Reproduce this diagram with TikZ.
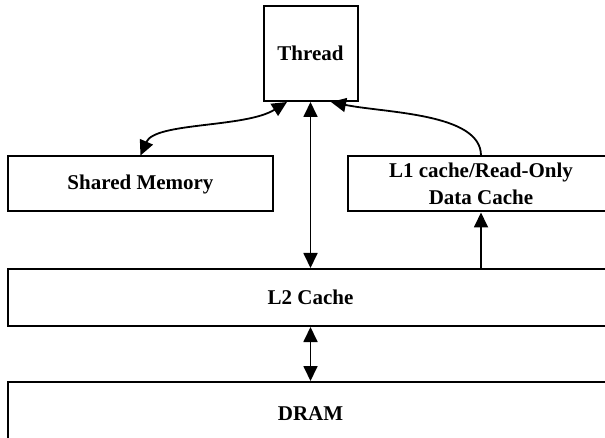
\documentclass[tikz,border=0pt]{standalone}
\usepackage{fontspec}
\setmainfont{Liberation Serif}
\usetikzlibrary{arrows.meta}

\begin{document}
\begin{tikzpicture}[x=0.5pt,y=-0.5pt,
		box/.style={draw, line width=1pt, align=center, inner sep=0pt,
			font=\bfseries\fontsize{10.5}{13.5}\selectfont},
		tip/.style={line width=0.9pt, -{Triangle[length=7.5pt,width=7pt]}},
		tips/.style={line width=0.9pt, {Triangle[length=7.5pt,width=7pt]}-{Triangle[length=7.5pt,width=7pt]}}]
	\useasboundingbox (0,0) rectangle (605,438);
	\clip (0,0) rectangle (605,438);

	% Memory blocks
	\node[box, minimum width=47pt, minimum height=47.5pt] (thread) at (310.5,53.5) {Thread};
	\node[box, minimum width=132.5pt, minimum height=27.5pt] (shmem) at (140.5,184) {Shared Memory};
	\node[box, minimum width=133pt, minimum height=27.5pt] (l1) at (481,184) {L1 cache/Read-Only\\Data Cache};
	\node[box, minimum width=302.5pt, minimum height=28.5pt] (l2) at (310.5,297.5) {L2 Cache};
	\node[box, minimum width=302.5pt, minimum height=32pt] (dram) at (310.5,414) {DRAM};

	% Connections to the thread
	\draw[tips] (shmem.north) .. controls (155,122) and (245,128) .. ([xshift=-11.75pt]thread.south);
	\draw[tips] (thread.south |- l2.north) -- (thread.south);
	\draw[tip] (l1.north) .. controls (481,113) and (385,113) .. ([xshift=10.25pt]thread.south);

	% Lower levels
	\draw[tip] (l1.south |- l2.north) -- (l1.south);
	\draw[tips] (thread.south |- l2.south) -- (thread.south |- dram.north);
\end{tikzpicture}
\end{document}
